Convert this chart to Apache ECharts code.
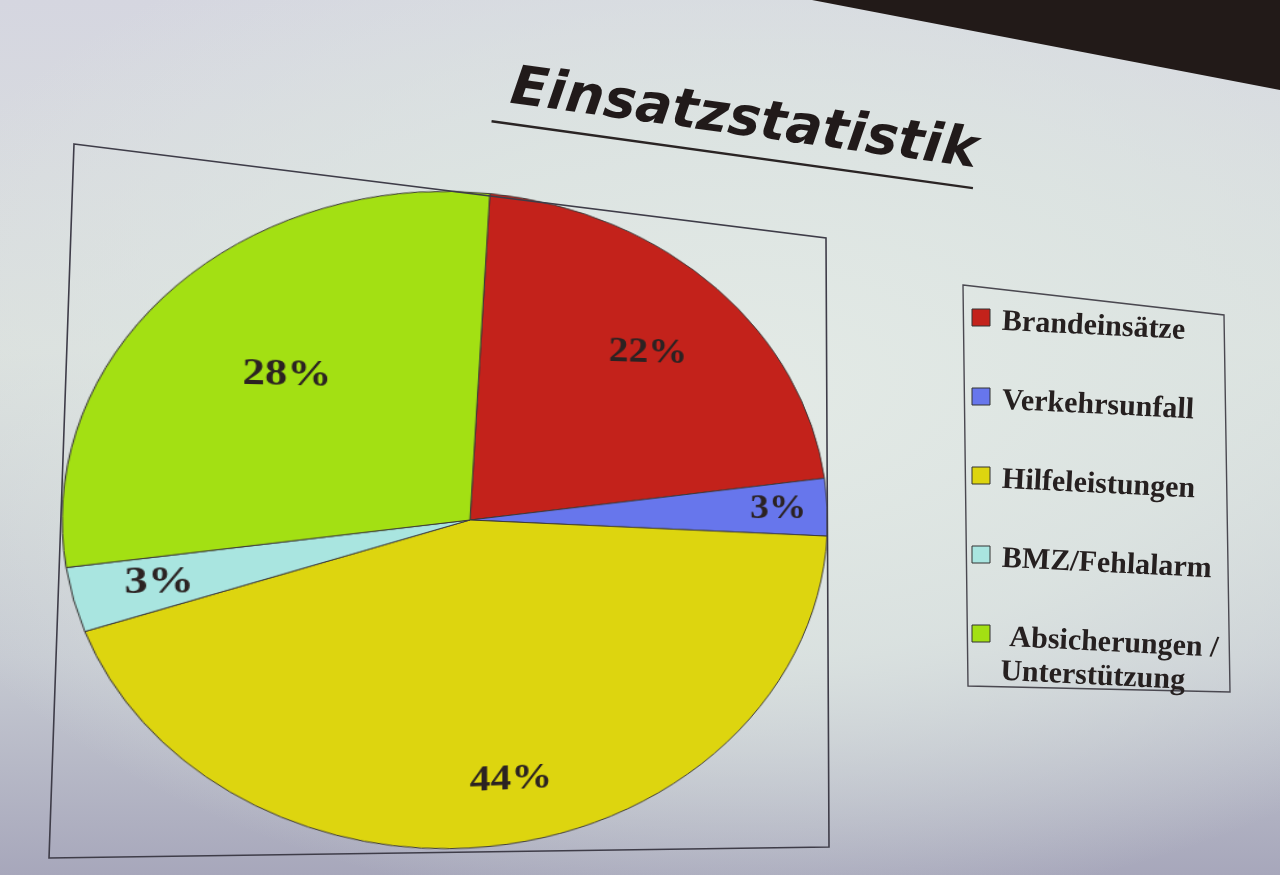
<!DOCTYPE html>
<html>
<head>
<meta charset="utf-8">
<title>Einsatzstatistik</title>
<script src="https://cdn.jsdelivr.net/npm/echarts@6/dist/echarts.min.js"></script>
<style>
  html, body { margin: 0; padding: 0; width: 1280px; height: 875px; overflow: hidden; }
  #stage {
    position: relative; width: 1280px; height: 875px;
    background:
      radial-gradient(ellipse 70% 60% at 58% 45%, rgba(227,234,230,1) 0%, rgba(221,229,226,0.85) 50%, rgba(221,229,226,0) 100%),
      linear-gradient(to bottom, #d5d6e0 0%, #dbe0de 40%, #c6cad2 75%, #a7a7bb 100%);
  }
  /* the plot area cuts the pie off at its right edge */
  #pieClip { position: absolute; left: 0; top: 0; width: 827px; height: 875px; overflow: hidden; }
  /* the slide is seen at an angle: the pie reads as a wide ellipse, nearer on the left */
  #pie { position: absolute; left: 0; top: 0; width: 1280px; height: 875px;
         transform-origin: 470px 520px;
         transform: perspective(1500px) rotateY(14.5deg) scaleX(1.2); }
  #overlay { position: absolute; left: 0; top: 0; width: 1280px; height: 875px; }
</style>
</head>
<body>
<div id="stage">
  <div id="pieClip"><div id="pie"></div></div>
  <div id="overlay"></div>
</div>
<script>
// Einsatzarten und ihr Anteil in Prozent
const categories = ['Brandeinsätze', 'Verkehrsunfall', 'Hilfeleistungen', 'BMZ/Fehlalarm', 'Absicherungen / Unterstützung'];
const shares = [22, 3, 44, 3, 28];
const legendLabels = ['Brandeinsätze', 'Verkehrsunfall', 'Hilfeleistungen', 'BMZ/Fehlalarm', ' Absicherungen /\nUnterstützung'];
const sliceColors = ['#c3221b', '#6776ec', '#ddd50f', '#a9e5e0', '#a3e013'];
const titleText = 'Einsatzstatistik';

// how far out (share of the radius) each percentage sits inside its slice
const labelRadius = [0.70, 0.84, 0.79, 0.78, 0.62];

const PIE_CX = 470, PIE_CY = 520, PIE_R = 328;

const pieChart = echarts.init(document.getElementById('pie'), null, { renderer: 'canvas' });
pieChart.setOption({
  animation: false,
  series: [{
    type: 'pie',
    center: [PIE_CX, PIE_CY],
    radius: PIE_R,
    startAngle: 87,
    clockwise: true,
    silent: true,
    data: categories.map((name, i) => ({ name, value: shares[i], itemStyle: { color: sliceColors[i] } })),
    itemStyle: { borderColor: '#3b3838', borderWidth: 1 },
    label: {
      show: true,
      position: 'inside',
      formatter: '{c}%',
      fontFamily: '"Liberation Serif", serif',
      fontWeight: 'bold',
      fontSize: 36,
      color: '#2b2222'
    },
    labelLine: { show: false },
    labelLayout: function (p) {
      // inside labels start at half the radius; push each one outwards along its slice
      const lx = p.labelRect.x + p.labelRect.width / 2;
      const ly = p.labelRect.y + p.labelRect.height / 2;
      const f = labelRadius[p.dataIndex] / 0.5 - 1;
      return { dx: (lx - PIE_CX) * f, dy: (ly - PIE_CY) * f };
    }
  }]
});

// title, frames and legend
const legendRowTop = 322, legendRowStep = 79;
const legendItems = [];
categories.forEach((name, i) => {
  const y = legendRowTop + i * legendRowStep;
  legendItems.push({
    type: 'rect',
    shape: { x: 972, y: y - 13, width: 18, height: 17 },
    style: { fill: sliceColors[i], stroke: '#333', lineWidth: 1 }
  });
  legendItems.push({
    type: 'text',
    x: 1002, y: y,
    rotation: -0.05,
    style: {
      text: legendLabels[i],
      x: 0, y: -17,
      align: 'left', verticalAlign: 'top',
      lineHeight: 34,
      fontFamily: '"Liberation Serif", serif',
      fontWeight: 'bold',
      fontSize: 30,
      fill: '#262020'
    }
  });
});

const overlay = echarts.init(document.getElementById('overlay'), null, { renderer: 'canvas' });
overlay.setOption({
  animation: false,
  backgroundColor: 'transparent',
  graphic: [
    // dark wall beyond the screen edge
    { type: 'polygon', shape: { points: [[812, 0], [1280, 0], [1280, 90]] }, style: { fill: '#221a18' } },
    // plot area frame
    { type: 'polygon', shape: { points: [[74, 144], [826, 238], [829, 847], [49, 858]] },
      style: { fill: 'none', stroke: '#3e3c48', lineWidth: 1.6 } },
    // legend frame
    { type: 'polygon', shape: { points: [[963, 285], [1224, 315], [1230, 692], [968, 686]] },
      style: { fill: 'none', stroke: '#4a4850', lineWidth: 1.4 } },
    // title with underline
    {
      type: 'group', x: 744, y: 121, rotation: -0.138,
      children: [
        { type: 'text', style: { text: titleText, x: 0, y: 0, align: 'center', verticalAlign: 'middle',
            fontFamily: '"DejaVu Sans", sans-serif', fontWeight: 'bold', fontStyle: 'italic', fontSize: 54, fill: '#211a1a' } },
        { type: 'line', shape: { x1: -250, y1: 35, x2: 236, y2: 35 }, style: { stroke: '#2a2424', lineWidth: 2.5 } }
      ]
    }
  ].concat(legendItems)
});
</script>
</body>
</html>
